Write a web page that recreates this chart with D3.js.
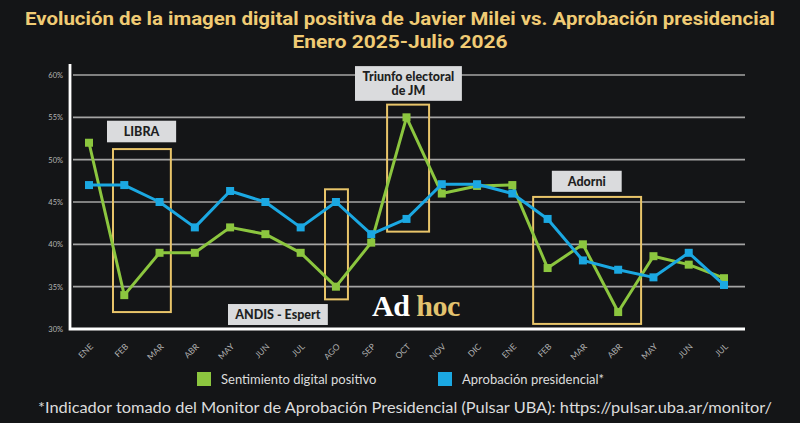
<!DOCTYPE html>
<html>
<head>
<meta charset="utf-8">
<script src="https://cdn.jsdelivr.net/npm/d3@7/dist/d3.min.js"></script>
<style>
  html, body { margin: 0; padding: 0; background: #141517; }
  svg { display: block; }
</style>
</head>
<body>
<div id="chart"></div>
<script>
// Months, Jan 2025 - Jul 2026
const months = ["ENE", "FEB", "MAR", "ABR", "MAY", "JUN", "JUL", "AGO", "SEP", "OCT", "NOV", "DIC",
                "ENE", "FEB", "MAR", "ABR", "MAY", "JUN", "JUL"];

// Sentimiento digital positivo (%)
const sentimiento = [52, 34, 39, 39, 42, 41.2, 39, 35, 40.2, 55, 46, 46.9, 47, 37.2, 40, 32, 38.6, 37.6, 36];

// Aprobación presidencial (%)
const aprobacion = [47, 47, 45, 42, 46.3, 45, 42, 45, 41.2, 43, 47.1, 47.1, 46, 43, 38.1, 37, 36.1, 39, 35.2];

const yTicks = [30, 35, 40, 45, 50, 55, 60];

// highlight boxes: [from index, to index, top %, bottom %]
const highlights = [
  [0.68, 2.32, 51.25, 32.0],
  [6.69, 7.34, 46.5, 33.5],
  [8.45, 9.64, 56.5, 41.5],
  [12.59, 15.65, 45.6, 30.6]
];

// label boxes: [text lines, from index, to index, top %, bottom %]
const labels = [
  [["LIBRA"], 0.51, 2.47, 54.6, 52.05],
  [["Triunfo electoral", "de JM"], 7.54, 10.57, 61.05, 56.95],
  [["Adorni"], 13.12, 15.1, 48.69, 46.2],
  [["ANDIS - Espert"], 3.94, 6.77, 32.95, 30.47]
];

const W = 800, H = 423;
const green = "#8cc63f", blue = "#1ba8e2", gold = "#f0cb74", boxGold = "#e9c56a";

const svg = d3.select("#chart").append("svg")
  .attr("width", W).attr("height", H);

svg.append("rect").attr("width", W).attr("height", H).attr("fill", "#141517");

// title
svg.append("text")
  .attr("x", 400).attr("y", 25)
  .attr("text-anchor", "middle")
  .attr("textLength", 750).attr("lengthAdjust", "spacingAndGlyphs")
  .style("font-family", "Roboto, sans-serif").style("font-weight", 700)
  .style("font-size", "18px").style("fill", gold)
  .text("Evolución de la imagen digital positiva de Javier Milei vs. Aprobación presidencial");

svg.append("text")
  .attr("x", 400).attr("y", 48)
  .attr("text-anchor", "middle")
  .attr("textLength", 215).attr("lengthAdjust", "spacingAndGlyphs")
  .style("font-family", "Roboto, sans-serif").style("font-weight", 700)
  .style("font-size", "18px").style("fill", gold)
  .text("Enero 2025-Julio 2026");

// scales
const x = d3.scaleLinear().domain([0, months.length - 1]).range([89, 724]);
const y = d3.scaleLinear().domain([30, 60]).range([329, 75]);

// gridlines
svg.append("g").selectAll("line")
  .data(yTicks.filter(d => d > 30))
  .enter().append("line")
  .attr("x1", 73).attr("x2", 745)
  .attr("y1", d => y(d)).attr("y2", d => y(d))
  .attr("stroke", "#a4a4a4").attr("stroke-width", 1.6);

// y axis
const yAxis = svg.append("g")
  .attr("transform", "translate(63,0)")
  .call(d3.axisLeft(y).tickValues(yTicks).tickFormat(d => d + "%").tickSize(0).tickPadding(0));
yAxis.select(".domain").remove();
yAxis.selectAll("text")
  .style("font-family", "Lato, sans-serif").style("font-size", "7.5px").style("fill", "#b5b5b5");

// frame (left + bottom)
svg.append("path")
  .attr("d", `M70,64 V${y(30)} H745`)
  .attr("fill", "none").attr("stroke", "#ffffff").attr("stroke-width", 2.8);

// x axis labels
const xAxis = svg.append("g")
  .attr("transform", "translate(0,342)")
  .call(d3.axisBottom(x).tickValues(d3.range(months.length)).tickFormat(i => months[i]).tickSize(0).tickPadding(0));
xAxis.select(".domain").remove();
xAxis.selectAll("text")
  .attr("text-anchor", "end")
  .attr("transform", "translate(2,3) rotate(-45)")
  .attr("dy", "0.35em")
  .style("font-family", "Lato, sans-serif").style("font-size", "8.5px").style("fill", "#b0b0b0");

// highlight boxes
svg.append("g").selectAll("rect")
  .data(highlights)
  .enter().append("rect")
  .attr("x", d => x(d[0])).attr("width", d => x(d[1]) - x(d[0]))
  .attr("y", d => y(d[2])).attr("height", d => y(d[3]) - y(d[2]))
  .attr("fill", "none").attr("stroke", boxGold).attr("stroke-width", 2);

// Ad hoc logo
const logo = svg.append("text")
  .attr("x", 372).attr("y", 316)
  .style("font-family", "'Liberation Serif', serif").style("font-weight", 700)
  .style("font-size", "30px").style("letter-spacing", "-0.5px");
logo.append("tspan").style("fill", "#ffffff").text("Ad");
logo.append("tspan").style("fill", "#e3c36f").text(" hoc");

// lines
const line = d3.line().x((d, i) => x(i)).y(d => y(d));

function drawSeries(values, color) {
  svg.append("path")
    .datum(values)
    .attr("d", line)
    .attr("fill", "none")
    .attr("stroke", color).attr("stroke-width", 3)
    .attr("stroke-linejoin", "round");
  svg.append("g").selectAll("rect")
    .data(values)
    .enter().append("rect")
    .attr("x", (d, i) => x(i) - 4).attr("y", d => y(d) - 4)
    .attr("width", 8).attr("height", 8)
    .attr("fill", color);
}
drawSeries(sentimiento, green);
drawSeries(aprobacion, blue);

// label boxes
const lab = svg.append("g").selectAll("g")
  .data(labels)
  .enter().append("g");
lab.append("rect")
  .attr("x", d => x(d[1])).attr("width", d => x(d[2]) - x(d[1]))
  .attr("y", d => y(d[3])).attr("height", d => y(d[4]) - y(d[3]))
  .attr("fill", "#dadbdd");
lab.each(function(d) {
  const cx = (x(d[1]) + x(d[2])) / 2;
  const cy = (y(d[3]) + y(d[4])) / 2;
  const n = d[0].length;
  d3.select(this).selectAll("text")
    .data(d[0])
    .enter().append("text")
    .attr("x", cx)
    .attr("y", (t, i) => cy + (i - (n - 1) / 2) * 14)
    .attr("dy", "0.36em")
    .attr("text-anchor", "middle")
    .style("font-family", "Lato, sans-serif").style("font-weight", 900)
    .style("font-size", "12.5px").style("fill", "#1e1f22")
    .text(t => t);
});

// legend
const legend = [["Sentimiento digital positivo", green, 197], ["Aprobación presidencial*", blue, 438]];
const lg = svg.append("g").selectAll("g")
  .data(legend)
  .enter().append("g")
  .attr("transform", d => `translate(${d[2]},372)`);
lg.append("rect").attr("width", 14).attr("height", 14).attr("fill", d => d[1]);
lg.append("text")
  .attr("x", 24).attr("y", 7).attr("dy", "0.36em")
  .style("font-family", "Lato, sans-serif").style("font-size", "13px").style("fill", "#dcdcdc")
  .text(d => d[0]);

// footnote
svg.append("text")
  .attr("x", 405).attr("y", 413)
  .attr("text-anchor", "middle")
  .attr("textLength", 734).attr("lengthAdjust", "spacingAndGlyphs")
  .style("font-family", "Lato, sans-serif").style("font-size", "15px").style("fill", "#dcdcdc")
  .text("*Indicador tomado del Monitor de Aprobación Presidencial (Pulsar UBA): https://pulsar.uba.ar/monitor/");
</script>
</body>
</html>
